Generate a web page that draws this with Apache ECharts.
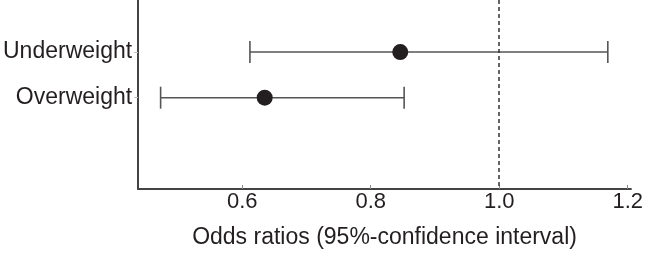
<!DOCTYPE html>
<html>
<head>
<meta charset="utf-8">
<script src="https://cdn.jsdelivr.net/npm/echarts@6/dist/echarts.min.js"></script>
<style>
  html, body { margin: 0; padding: 0; background: #fff; }
  #chart { width: 646px; height: 254px; }
</style>
</head>
<body>
<div id="chart"></div>
<script>
const categories = ['Underweight', 'Overweight'];
const oddsRatios = [0.846, 0.635];
const ciLower = [0.612, 0.473];
const ciUpper = [1.169, 0.852];
const xTicks = [0.6, 0.8, 1.0, 1.2];
const refLine = 1.0;

const rows = categories.map((c, i) => i + 1);
const font = 'Liberation Sans, Arial, Helvetica, sans-serif';

const chart = echarts.init(document.getElementById('chart'), null, { renderer: 'canvas' });

chart.setOption({
  backgroundColor: '#fff',
  animation: false,
  grid: { left: 135, right: 13, top: 0, bottom: 60 },
  xAxis: {
    type: 'value',
    position: 'bottom',
    min: 0.438,
    max: 1.205,
    name: 'Odds ratios (95%-confidence interval)',
    nameLocation: 'middle',
    nameGap: 37,
    nameTextStyle: { fontFamily: font, fontSize: 23, color: '#231f20' },
    axisLine: { show: true, onZero: false, lineStyle: { color: '#444', width: 2 } },
    axisTick: { show: true, inside: true, length: 4, customValues: xTicks, lineStyle: { color: '#888', width: 1 } },
    axisLabel: {
      customValues: xTicks,
      margin: 2,
      fontFamily: font, fontSize: 22, color: '#231f20',
      formatter: v => v.toFixed(1)
    },
    splitLine: { show: false }
  },
  yAxis: {
    type: 'value',
    inverse: true,
    min: -0.14,
    max: 4,
    axisLine: { show: true, onZero: false, lineStyle: { color: '#444', width: 2 } },
    axisTick: { show: true, length: 4, customValues: rows, lineStyle: { color: '#bbb', width: 1 } },
    axisLabel: {
      customValues: rows,
      margin: 6,
      fontFamily: font, fontSize: 23, color: '#231f20',
      formatter: v => categories[Math.round(v) - 1] || ''
    },
    splitLine: { show: false }
  },
  series: [
    {
      type: 'custom',
      data: categories.map((c, i) => [ciLower[i], ciUpper[i], rows[i]]),
      renderItem(params, api) {
        const y = api.value(2);
        const a = api.coord([api.value(0), y]);
        const b = api.coord([api.value(1), y]);
        const cap = 11;
        const style = { stroke: '#555', lineWidth: 1.6 };
        return {
          type: 'group',
          children: [
            { type: 'line', shape: { x1: a[0], y1: a[1], x2: b[0], y2: b[1] }, style },
            { type: 'line', shape: { x1: a[0], y1: a[1] - cap, x2: a[0], y2: a[1] + cap }, style },
            { type: 'line', shape: { x1: b[0], y1: b[1] - cap, x2: b[0], y2: b[1] + cap }, style }
          ]
        };
      },
      z: 2
    },
    {
      type: 'scatter',
      data: categories.map((c, i) => [oddsRatios[i], rows[i]]),
      symbol: 'circle',
      symbolSize: 16,
      itemStyle: { color: '#231f20', opacity: 1 },
      z: 3,
      markLine: {
        silent: true,
        symbol: ['none', 'none'],
        label: { show: false },
        lineStyle: { color: '#333', type: [4, 3], width: 1.5 },
        data: [{ xAxis: refLine }]
      }
    }
  ]
});
</script>
</body>
</html>
